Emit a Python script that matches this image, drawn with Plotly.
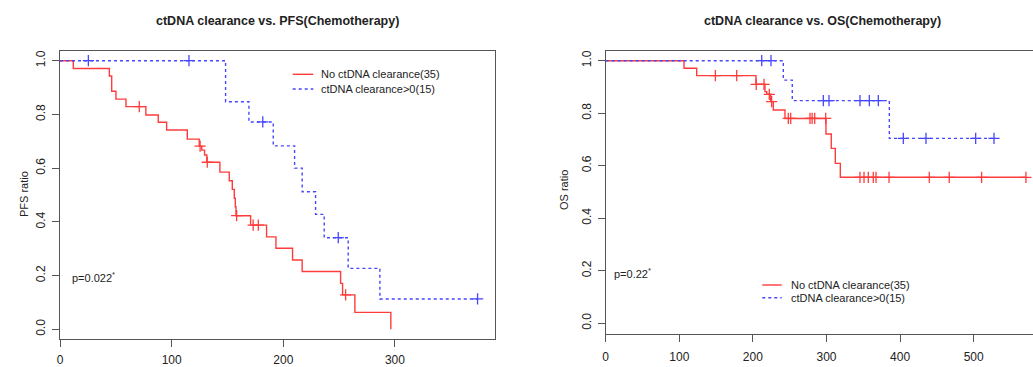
import numpy as np
import plotly.graph_objects as go

W, H = 1033, 367

# ---------------- data ----------------
# PFS, No ctDNA clearance (35)
pfs_no_t = [0, 11.9, 44.2, 46.3, 50.1, 59.1, 76.9, 88.0, 95.5, 114.0, 124.7, 127.0, 129.5, 131.5,
            143.2, 151.6, 154.3, 156.1, 157.0, 157.6, 170.7, 185.0, 193.4, 208.3, 216.9, 251.3,
            253.1, 264.1, 296.3]
pfs_no_s = [1.0, 0.971, 0.943, 0.886, 0.857, 0.829, 0.798, 0.771, 0.742, 0.708, 0.682, 0.667, 0.649, 0.622,
            0.585, 0.553, 0.521, 0.488, 0.456, 0.423, 0.388, 0.344, 0.302, 0.258, 0.215, 0.171,
            0.128, 0.063, 0.0]
pfs_no_cens = [71.0, 125.5, 131.9, 158.2, 173.0, 177.6, 255.8]

# PFS, ctDNA clearance>0 (15)
pfs_cl_t = [0, 148.3, 169.2, 191.0, 210.1, 216.9, 228.9, 236.6, 258.1, 286.5, 374.0]
pfs_cl_s = [1.0, 0.847, 0.772, 0.683, 0.600, 0.512, 0.428, 0.341, 0.227, 0.113, 0.113]
pfs_cl_cens = [25.4, 115.5, 181.6, 249.2, 374.0]

# OS, No ctDNA clearance (35)
os_no_t = [0, 106.4, 123.6, 204.2, 216.4, 218.8, 224.2, 227.7, 243.6, 299.3, 306.5, 312.0, 318.8, 571.0]
os_no_s = [1.0, 0.971, 0.943, 0.910, 0.882, 0.872, 0.844, 0.812, 0.780, 0.721, 0.666, 0.609, 0.556, 0.556]
os_no_cens = [149.0, 178.0, 204.5, 215.1, 222.3, 225.5, 248.1, 251.4, 277.6, 280.5, 284.0, 298.9,
              345.5, 351.0, 356.8, 363.6, 367.3, 385.0, 439.7, 466.8, 510.8, 571.0]

# OS, ctDNA clearance>0 (15)
os_cl_t = [0, 241.3, 253.5, 385.4, 527.6]
os_cl_s = [1.0, 0.926, 0.848, 0.704, 0.704]
os_cl_cens = [212.0, 224.6, 295.7, 303.4, 345.5, 358.2, 370.4, 404.4, 435.2, 502.7, 527.6]

y_ticks = [0.0, 0.2, 0.4, 0.6, 0.8, 1.0]
y_tick_text = ["0.0", "0.2", "0.4", "0.6", "0.8", "1.0"]
pfs_x_ticks = [0, 100, 200, 300]
os_x_ticks = [0, 100, 200, 300, 400, 500]

name_no = "No ctDNA clearance(35)"
name_cl = "ctDNA clearance>0(15)"
pfs_title = "ctDNA clearance vs. PFS(Chemotherapy)"
os_title = "ctDNA clearance vs. OS(Chemotherapy)"
pfs_p = "p=0.022"
os_p = "p=0.22"

RED = "rgb(255,60,60)"
BLUE = "rgb(70,70,255)"
AX = "#555555"
TXT = "#222222"
FONT = "Liberation Sans, Arial, sans-serif"


def step_at(ts, ss, x):
    i = np.searchsorted(np.array(ts), x, side="right") - 1
    return ss[max(i, 0)]


def px_x(p):
    return p / W


def px_y(p):
    return 1 - p / H


fig = go.Figure()


def add_km(t, s, cens, color, dash, xa, ya):
    fig.add_trace(go.Scatter(x=t, y=s, mode="lines", line=dict(color=color, width=1.4, dash=dash, shape="hv"),
                             xaxis=xa, yaxis=ya, showlegend=False, hoverinfo="skip", cliponaxis=False))
    cy = [step_at(t, s, c) for c in cens]
    fig.add_trace(go.Scatter(x=cens, y=cy, mode="markers",
                             marker=dict(symbol="cross-thin", size=8, line=dict(color=color, width=1.3)),
                             xaxis=xa, yaxis=ya, showlegend=False, hoverinfo="skip", cliponaxis=False))


add_km(pfs_no_t, pfs_no_s, pfs_no_cens, RED, "solid", "x", "y")
add_km(pfs_cl_t, pfs_cl_s, pfs_cl_cens, BLUE, "3px,3px", "x", "y")
add_km(os_no_t, os_no_s, os_no_cens, RED, "solid", "x2", "y2")
add_km(os_cl_t, os_cl_s, os_cl_cens, BLUE, "3px,3px", "x2", "y2")

axis_common = dict(showgrid=False, zeroline=False, showline=True, linecolor=AX, linewidth=1.2,
                   ticks="outside", ticklen=7, tickcolor=AX, tickwidth=1.2, automargin=False,
                   tickfont=dict(family=FONT, size=12, color=TXT))

fig.update_layout(
    width=W, height=H, margin=dict(l=0, r=0, t=0, b=0, pad=0, autoexpand=False),
    paper_bgcolor="white", plot_bgcolor="white", showlegend=False,
    xaxis=dict(domain=[px_x(60), px_x(495)], range=[0, 389.6], anchor="y", mirror=True,
               tickvals=pfs_x_ticks, ticklabelstandoff=2, **axis_common),
    yaxis=dict(domain=[px_y(339), px_y(50.7)], range=[-0.0361, 1.0372], anchor="x", mirror=True,
               tickvals=y_ticks, ticktext=y_tick_text, tickangle=-90, ticklabelstandoff=2, **axis_common),
    xaxis2=dict(domain=[px_x(605.7), 1.0], range=[0, 580.6], anchor="y2", mirror=True,
                tickvals=os_x_ticks, ticklabelstandoff=4, **axis_common),
    yaxis2=dict(domain=[px_y(334.3), px_y(50.7)], range=[-0.0419, 1.038], anchor="x2", mirror=False,
                tickvals=y_ticks, ticktext=y_tick_text, tickangle=-90, ticklabelstandoff=2, **axis_common),
)

ann = []


def text(x, y, s, size=11, bold=False, xanchor="left", angle=0):
    ann.append(dict(x=px_x(x), y=px_y(y), xref="paper", yref="paper", text=("<b>%s</b>" % s) if bold else s,
                    showarrow=False, xanchor=xanchor, yanchor="middle", textangle=angle,
                    font=dict(family=FONT, size=size, color=TXT)))


text(277.5, 20.7, pfs_title, size=12.5, bold=True, xanchor="center")
text(822.5, 20.7, os_title, size=12.5, bold=True, xanchor="center")
text(24, 194, "PFS ratio", size=11, xanchor="center", angle=-90)
text(564, 190, "OS ratio", size=11, xanchor="center", angle=-90)
text(70, 276.7, pfs_p + "<sup>*</sup>", size=11)
text(612, 272.7, os_p + "<sup>*</sup>", size=11)

# legends
shapes = []


def legend(x0, x1, ytop, ybot, tx):
    shapes.append(dict(type="line", xref="paper", yref="paper", x0=px_x(x0), x1=px_x(x1), y0=px_y(ytop), y1=px_y(ytop),
                       line=dict(color=RED, width=1.4)))
    shapes.append(dict(type="line", xref="paper", yref="paper", x0=px_x(x0), x1=px_x(x1), y0=px_y(ybot), y1=px_y(ybot),
                       line=dict(color=BLUE, width=1.4, dash="3px,3px")))
    text(tx, ytop, name_no, size=11)
    text(tx, ybot, name_cl, size=11)


legend(292.7, 313.3, 74.3, 89.0, 318.5)
legend(762.3, 781.7, 285.0, 297.7, 788.5)

fig.update_layout(annotations=ann, shapes=shapes)
fig.write_html("out.html")
